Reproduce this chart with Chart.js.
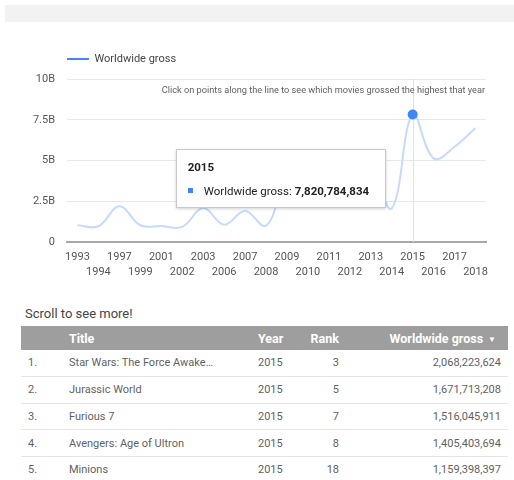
<!DOCTYPE html>
<html>
<head>
<meta charset="utf-8">
<script src="https://cdn.jsdelivr.net/npm/chart.js@4.4.0/dist/chart.umd.min.js"></script>
<style>
  body { margin: 0; background: #fff; font-family: Roboto, sans-serif; width: 514px; height: 480px; overflow: hidden; position: relative; }
  #barra { position: absolute; left: 5px; top: 5px; width: 509px; height: 17px; background: #f2f2f2; }
  #area-grafico { position: absolute; left: 0; top: 0; width: 514px; height: 290px; }
  #tooltip { position: absolute; display: none; width: 210px; height: 59px; box-sizing: border-box; background: #fff;
    border: 1px solid #c9c9c9; box-shadow: 0 1px 3px rgba(0,0,0,0.18); padding: 10px 0 0 11px; color: #222; font-size: 11.5px; }
  #tooltip .titulo { font-weight: bold; line-height: 14px; height: 14px; }
  #tooltip .corpo { margin-top: 10px; line-height: 14px; white-space: nowrap; }
  #tooltip .quadrado { display: inline-block; width: 5px; height: 5px; background: #4285f4; margin-right: 11px; vertical-align: 2px; }
  #aviso { position: absolute; left: 25px; top: 305px; font-size: 13px; line-height: 18px; color: #444; }
  #tabela { position: absolute; left: 21px; top: 326px; width: 487px; border-collapse: collapse; table-layout: fixed; font-size: 11px; color: #5f5f5f; }
  #tabela th { background: #9e9e9e; color: #fff; font-weight: bold; font-size: 12.5px; height: 24px; padding: 0; text-align: left; }
  #tabela td { height: 25.75px; padding: 0; border-bottom: 1px solid #e6e6e6; white-space: nowrap; overflow: hidden; text-overflow: ellipsis; }
  #tabela .c-idx { padding-left: 7px; }
  #tabela .c-tit { padding-left: 8px; padding-right: 8px; }
  #tabela .c-ano { padding-left: 36px; }
  #tabela .c-rank { text-align: right; padding-right: 7px; }
  #tabela td.c-bruto { text-align: right; padding-right: 7px; }
  #tabela th.c-bruto { text-align: right; padding-right: 12px; }
  #tabela .seta { font-size: 8px; margin-left: 5px; vertical-align: 1px; }
</style>
</head>
<body>
<div id="barra"></div>
<div id="area-grafico"><canvas id="grafico"></canvas></div>
<div id="tooltip"></div>
<div id="aviso">Scroll to see more!</div>
<table id="tabela">
  <colgroup><col style="width:40px"><col style="width:161px"><col style="width:68px"><col style="width:56px"><col style="width:162px"></colgroup>
  <thead><tr><th class="c-idx"></th><th class="c-tit">Title</th><th class="c-ano">Year</th><th class="c-rank">Rank</th><th class="c-bruto">Worldwide gross<span class="seta">&#9660;</span></th></tr></thead>
  <tbody id="corpo-tabela"></tbody>
</table>

<script>
const nomeSerie = 'Worldwide gross';
const anos = ['1993', '1994', '1997', '1999', '2001', '2002', '2003', '2006', '2007', '2008',
              '2009', '2010', '2011', '2012', '2013', '2014', '2015', '2016', '2017', '2018'];
const brutoPorAno = [1029000000, 968000000, 2187000000, 1027000000, 975000000, 926000000, 2082000000, 1066000000, 1905000000, 1005000000,
                     3720000000, 3050000000, 3510000000, 4730000000, 4420000000, 2060000000, 7820784834, 5130000000, 5840000000, 7000000000];
const valoresEixoY = [0, 2500000000, 5000000000, 7500000000, 10000000000];
const rotulosEixoY = ['0', '2.5B', '5B', '7.5B', '10B'];
const anoSelecionado = '2015';
const textoDica = 'Click on points along the line to see which movies grossed the highest that year';

const titulosFilmes = ['Star Wars: The Force Awakens', 'Jurassic World', 'Furious 7', 'Avengers: Age of Ultron', 'Minions'];
const anosFilmes = [2015, 2015, 2015, 2015, 2015];
const rankFilmes = [3, 5, 7, 8, 18];
const brutoFilmes = [2068223624, 1671713208, 1516045911, 1405403694, 1159398397];

const formatador = new Intl.NumberFormat('en-US');
const indiceSelecionado = anos.indexOf(anoSelecionado);

Chart.defaults.font.family = 'Roboto';

function tooltipExterno(context) {
    const { chart, tooltip } = context;
    const el = document.getElementById('tooltip');
    if (tooltip.opacity === 0 || !tooltip.dataPoints || !tooltip.dataPoints.length) {
        el.style.display = 'none';
        return;
    }
    const i = tooltip.dataPoints[0].dataIndex;
    el.innerHTML = `
        <div class="titulo">${anos[i]}</div>
        <div class="corpo"><span class="quadrado"></span>${nomeSerie}: <b>${formatador.format(brutoPorAno[i])}</b></div>
    `;
    el.style.display = 'block';
    el.style.left = (chart.canvas.offsetLeft + tooltip.caretX - 27 - el.offsetWidth) + 'px';
    el.style.top = (chart.canvas.offsetTop + tooltip.caretY + 34) + 'px';
}

const pluginExtras = {
    id: 'extras',
    afterLayout(chart) {
        // legenda alinhada com a area do grafico
        chart.legend.left = chart.chartArea.left - 10;
        chart.legend.top -= 4.5;
    },
    beforeDatasetsDraw(chart) {
        const { ctx, chartArea } = chart;
        const x = chart.scales.x.getPixelForValue(indiceSelecionado);
        ctx.save();
        ctx.strokeStyle = '#e2e2e2';
        ctx.lineWidth = 1;
        ctx.beginPath();
        ctx.moveTo(Math.round(x) + 0.5, chartArea.top);
        ctx.lineTo(Math.round(x) + 0.5, chartArea.bottom);
        ctx.stroke();
        ctx.font = '9.2px Roboto';
        ctx.fillStyle = '#616161';
        ctx.textAlign = 'right';
        ctx.textBaseline = 'middle';
        ctx.fillText(textoDica, chartArea.right - 1, chartArea.top + 12);
        ctx.restore();
    }
};

const grafico = new Chart(document.getElementById('grafico'), {
    type: 'line',
    data: {
        labels: anos,
        datasets: [{
            label: nomeSerie,
            data: brutoPorAno,
            borderColor: '#c6dafc',
            borderWidth: 2,
            tension: 0.4,
            fill: false,
            pointRadius: (ctx) => ctx.dataIndex === indiceSelecionado ? 5 : 0,
            pointBackgroundColor: '#4285f4',
            pointBorderWidth: 0,
            clip: false
        }]
    },
    options: {
        responsive: true,
        maintainAspectRatio: false,
        animation: false,
        events: [],
        layout: { padding: { top: 48, right: 28, bottom: 8, left: 0 } },
        plugins: {
            legend: {
                position: 'top',
                align: 'start',
                labels: {
                    boxWidth: 22,
                    boxHeight: 2,
                    padding: 10,
                    color: '#444',
                    font: { size: 11 },
                    generateLabels: () => [{ text: nomeSerie, fillStyle: '#4285f4', strokeStyle: '#4285f4', fontColor: '#444', lineWidth: 0, hidden: false, datasetIndex: 0 }]
                }
            },
            tooltip: {
                enabled: false,
                external: tooltipExterno
            }
        },
        scales: {
            x: {
                offset: true,
                grid: { display: false },
                border: { display: true, color: '#a8a8a8', width: 2 },
                ticks: {
                    autoSkip: false,
                    maxRotation: 0,
                    minRotation: 0,
                    padding: 0,
                    color: '#555',
                    font: { size: 11, lineHeight: 1.36 },
                    callback: (valor, i) => i % 2 === 0 ? [anos[i], ''] : ['', anos[i]]
                },
                afterFit: (escala) => { escala.height = 40; }
            },
            y: {
                min: 0,
                max: 10000000000,
                grid: { color: '#e8e8e8', drawTicks: false },
                border: { display: false },
                afterBuildTicks: (escala) => { escala.ticks = valoresEixoY.map(v => ({ value: v })); },
                ticks: {
                    padding: 12,
                    color: '#555',
                    font: { size: 11 },
                    callback: (valor, i) => rotulosEixoY[i]
                },
                afterFit: (escala) => { escala.width = 67; }
            }
        }
    },
    plugins: [pluginExtras]
});

grafico.tooltip.setActiveElements([{ datasetIndex: 0, index: indiceSelecionado }], { x: 0, y: 0 });
grafico.draw();

const corpoTabela = document.getElementById('corpo-tabela');
titulosFilmes.forEach((titulo, i) => {
    const linha = document.createElement('tr');
    linha.innerHTML = `
        <td class="c-idx">${i + 1}.</td>
        <td class="c-tit">${titulo}</td>
        <td class="c-ano">${anosFilmes[i]}</td>
        <td class="c-rank">${rankFilmes[i]}</td>
        <td class="c-bruto">${formatador.format(brutoFilmes[i])}</td>
    `;
    corpoTabela.appendChild(linha);
});
</script>
</body>
</html>
